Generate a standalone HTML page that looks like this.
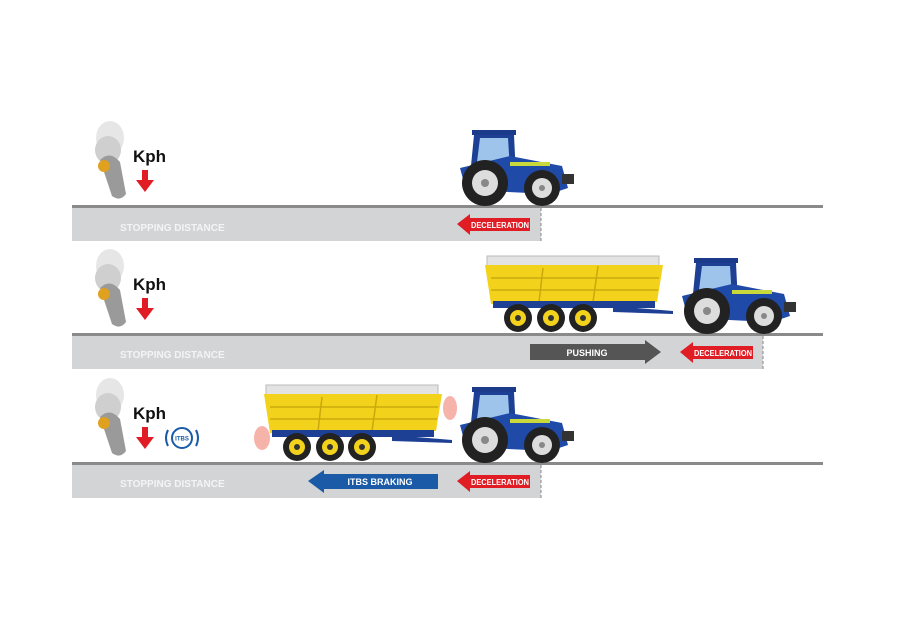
<!DOCTYPE html>
<html><head><style>body{margin:0;background:#fff}svg{display:block}text{font-family:"Liberation Sans",sans-serif}</style></head><body>
<svg width="901" height="631" viewBox="0 0 901 631" xmlns="http://www.w3.org/2000/svg">
<defs>
<g id="tractor">
 <rect x="22" y="2" width="44" height="5" fill="#1b3b8a"/>
 <path d="M24 7 L64 7 L66 48 L20 48 Z" fill="#1d3f94"/>
 <path d="M30 10 L58 10 L60 42 L26 42 Z" fill="#9ec4ec"/>
 <path d="M10 40 L60 28 L112 38 L118 60 L100 66 L16 62 Z" fill="#1f4aa8"/>
 <rect x="60" y="34" width="40" height="4" fill="#c9d83a"/>
 <rect x="112" y="46" width="12" height="10" fill="#333"/>
 <circle cx="35" cy="55" r="23" fill="#222"/>
 <circle cx="35" cy="55" r="13" fill="#ddd"/>
 <circle cx="35" cy="55" r="4" fill="#888"/>
 <circle cx="92" cy="60" r="18" fill="#222"/>
 <circle cx="92" cy="60" r="10" fill="#ddd"/>
 <circle cx="92" cy="60" r="3" fill="#888"/>
</g>
<g id="trailer">
 <rect x="4" y="0" width="172" height="10" fill="#e3e3e3" stroke="#bbb"/>
 <path d="M2 9 L180 9 L174 46 L8 48 Z" fill="#f3d21c"/>
 <path d="M8 22 L176 22 M8 34 L175 34" stroke="#c9a90c" stroke-width="1.5"/>
 <path d="M60 12 L56 46 M115 10 L110 46" stroke="#c9a90c" stroke-width="1.5"/>
 <rect x="10" y="45" width="162" height="7" fill="#1d3f94"/>
 <path d="M130 50 L190 55 L190 58 L130 56 Z" fill="#1d3f94"/>
 <g fill="#222"><circle cx="35" cy="62" r="14"/><circle cx="68" cy="62" r="14"/><circle cx="100" cy="62" r="14"/></g>
 <g fill="#f3d21c"><circle cx="35" cy="62" r="8"/><circle cx="68" cy="62" r="8"/><circle cx="100" cy="62" r="8"/></g>
 <g fill="#333"><circle cx="35" cy="62" r="3"/><circle cx="68" cy="62" r="3"/><circle cx="100" cy="62" r="3"/></g>
</g>
<g id="lever">
 <ellipse cx="18" cy="18" rx="14" ry="17" fill="#e6e6e6"/>
 <ellipse cx="16" cy="30" rx="13" ry="14" fill="#cfcfcf"/>
 <path d="M8 40 Q18 30 28 42 L34 74 Q28 82 20 76 Z" fill="#9a9a9a"/>
 <circle cx="12" cy="46" r="6" fill="#e0a020"/>
</g>
<g id="kph">
 <text x="41" y="42" font-size="17" font-weight="bold" fill="#111">Kph</text>
 <path d="M50 50 L56 50 L56 60 L62 60 L53 72 L44 60 L50 60 Z" fill="#e01c24"/>
</g>
<g id="decel">
 <path d="M0 10 L13 0 L13 4 L73 4 L73 17 L13 17 L13 21 Z" fill="#e01c24"/>
 <text x="43" y="14" font-size="8" font-weight="bold" fill="#fff" text-anchor="middle" textLength="58" lengthAdjust="spacingAndGlyphs">DECELERATION</text>
</g>
</defs>

<rect x="72" y="205" width="751" height="3" fill="#8a8a8a"/>
<rect x="72" y="208" width="469" height="33" fill="#d3d4d6"/>
<line x1="541" y1="208" x2="541" y2="241" stroke="#888" stroke-dasharray="3,2"/>
<text x="120" y="231" font-size="10" font-weight="bold" fill="#f4f4f4">STOPPING DISTANCE</text>
<use href="#decel" x="457" y="214"/>
<use href="#tractor" x="450" y="128"/>
<use href="#lever" x="92" y="120"/>
<use href="#kph" x="92" y="120"/>

<rect x="72" y="333" width="751" height="3" fill="#8a8a8a"/>
<rect x="72" y="336" width="691" height="33" fill="#d3d4d6"/>
<line x1="763" y1="336" x2="763" y2="369" stroke="#888" stroke-dasharray="3,2"/>
<text x="120" y="358" font-size="10" font-weight="bold" fill="#f4f4f4">STOPPING DISTANCE</text>
<path d="M530 344 L645 344 L645 340 L661 352 L645 364 L645 360 L530 360 Z" fill="#555"/>
<text x="587" y="356" font-size="9" font-weight="bold" fill="#fff" text-anchor="middle">PUSHING</text>
<use href="#decel" x="680" y="342"/>
<use href="#trailer" x="483" y="256"/>
<use href="#tractor" x="672" y="256"/>
<use href="#lever" x="92" y="248"/>
<use href="#kph" x="92" y="248"/>

<rect x="72" y="462" width="751" height="3" fill="#8a8a8a"/>
<rect x="72" y="465" width="469" height="33" fill="#d3d4d6"/>
<line x1="541" y1="465" x2="541" y2="498" stroke="#888" stroke-dasharray="3,2"/>
<text x="120" y="487" font-size="10" font-weight="bold" fill="#f4f4f4">STOPPING DISTANCE</text>
<path d="M308 481 L324 470 L324 474 L438 474 L438 489 L324 489 L324 493 Z" fill="#1a5aa6"/>
<text x="380" y="485" font-size="9" font-weight="bold" fill="#fff" text-anchor="middle">ITBS BRAKING</text>
<use href="#decel" x="457" y="471"/>
<ellipse cx="262" cy="438" rx="8" ry="12" fill="#f08070" opacity="0.6"/>
<ellipse cx="450" cy="408" rx="7" ry="12" fill="#f08070" opacity="0.6"/>
<use href="#trailer" x="262" y="385"/>
<use href="#tractor" x="450" y="385"/>
<use href="#lever" x="92" y="377"/>
<use href="#kph" x="92" y="377"/>
<circle cx="182" cy="438" r="10" fill="none" stroke="#1a5aa6" stroke-width="2"/>
<path d="M168 430 Q164 438 168 446 M196 430 Q200 438 196 446" fill="none" stroke="#1a5aa6" stroke-width="2"/>
<text x="182" y="440.5" font-size="6" font-weight="bold" fill="#1a5aa6" text-anchor="middle">ITBS</text>
</svg>
</body></html>
